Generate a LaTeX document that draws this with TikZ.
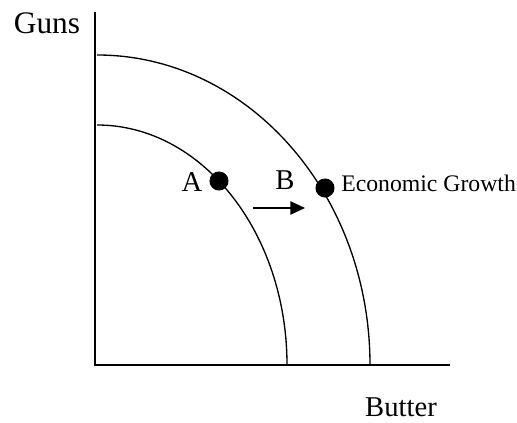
\documentclass[tikz,border=0pt]{standalone}
\usepackage{fontspec}
\setmainfont{Liberation Serif}
\usetikzlibrary{arrows.meta}

\begin{document}
\begin{tikzpicture}[x=0.75pt,y=0.75pt]
\tikzset{
  dotnode/.style={circle,fill=black,minimum size=14.3pt,inner sep=0pt},
  biglabel/.style={font=\fontsize{21.5}{24}\selectfont,inner sep=0pt,anchor=base},
  smalllabel/.style={font=\fontsize{17.8}{20}\selectfont,inner sep=0pt,anchor=base west},
  axis/.style={line width=1.1pt},
  frontier/.style={line width=1pt},
  directed/.style={-{Triangle[length=11pt,width=10pt]},line width=1.1pt}
}
\useasboundingbox (-95,-58) rectangle (422,365);
\coordinate (O) at (0,0);
\coordinate (gunsTop) at (0,353);
\coordinate (butterEnd) at (355,0);
\coordinate (shiftStart) at (158,157);
\coordinate (shiftEnd) at (210,157);
\node[biglabel,font=\fontsize{23.5}{26}\selectfont] (guns) at (-48,331) {Guns};
\node[biglabel] (butter) at (306,-52) {Butter};
\node[dotnode] (dotA) at (124,184) {};
\node[dotnode] (dotB) at (230,177) {};
\node[biglabel] (labA) at (97,173) {A};
\node[biglabel] (labB) at (190,175) {B};
\node[smalllabel] (growth) at (246,173) {Economic Growth};
\draw[axis] (gunsTop) -- (O) -- (butterEnd);
\draw[frontier] (2,240) arc[start angle=90,end angle=0,x radius=190,y radius=240];
\draw[frontier] (2,310) arc[start angle=90,end angle=0,x radius=273,y radius=310];
\draw[directed] (shiftStart) -- (shiftEnd);
\end{tikzpicture}
\end{document}
